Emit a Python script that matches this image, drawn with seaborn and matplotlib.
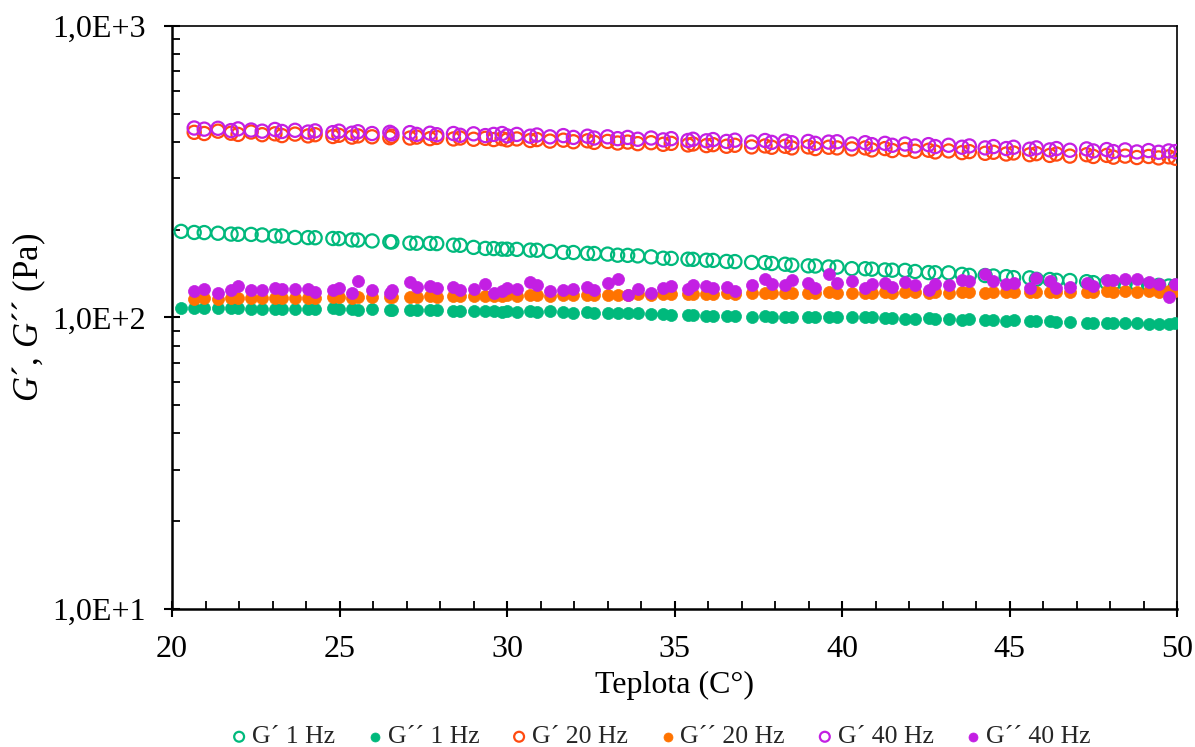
import numpy as np
import pandas as pd
import matplotlib
matplotlib.use("Agg")
import matplotlib.pyplot as plt
import matplotlib.ticker as mticker
import seaborn as sns

nan = np.nan

temperature = [
    20.27, 20.66, 20.96, 21.37, 21.76, 21.97, 22.36, 22.69, 23.07, 23.28,
    23.67, 24.06, 24.27, 24.80, 24.98, 25.37, 25.55, 25.97, 26.50, 26.56,
    27.10, 27.30, 27.70, 27.90, 28.40, 28.60, 29.00, 29.35, 29.60, 29.85,
    30.00, 30.29, 30.69, 30.89, 31.28, 31.68, 31.98, 32.40, 32.60, 33.00,
    33.30, 33.60, 33.90, 34.30, 34.66, 34.90, 35.40, 35.55, 35.95, 36.15,
    36.55, 36.80, 37.30, 37.70, 37.90, 38.30, 38.50, 38.99, 39.20, 39.60,
    39.85,
    40.29, 40.69, 40.89, 41.28, 41.50, 41.88, 42.18, 42.58, 42.78, 43.18,
    43.58, 43.80, 44.27, 44.52, 44.90, 45.12, 45.60, 45.80, 46.20, 46.40,
    46.80, 47.30, 47.50, 47.90, 48.10, 48.45, 48.80, 49.15, 49.45, 49.75,
    49.95,
]

g1_storage = [
    197.5, 195.8, 195.6, 194.6, 193.3, 193.0, 192.8, 192.0, 190.6, 190.4,
    188.2, 188.0, 187.8, 186.7, 186.5, 184.6, 184.4, 183.1, 181.8, 181.6,
    180.0, 179.8, 179.6, 179.3, 177.1, 176.9, 174.0, 172.6, 172.4, 171.6,
    171.5, 171.3, 170.3, 170.1, 168.6, 167.3, 167.1, 166.0, 165.8, 165.0,
    163.6, 163.4, 162.7, 161.5, 159.7, 159.5, 158.5, 158.3, 157.2, 157.0,
    155.7, 155.5, 154.5, 154.3, 153.2, 152.3, 151.2, 150.4, 150.2, 149.1,
    148.9,
    147.1, 147.0, 146.5, 145.6, 145.3, 145.1, 143.8, 142.6, 142.4, 142.3,
    140.6, 139.5, 139.3, 138.8, 138.1, 137.0, 136.8, 135.2, 135.0, 134.1,
    133.9, 132.7, 131.7, 131.5, 131.0, 130.7, 130.0, 129.3, 128.9, 128.2,
    128.0,
]

g1_loss = [
    108.0, 108.0, 107.9, 108.1, 107.8, 107.9, 107.2, 107.3, 107.1, 107.2,
    107.0, 107.1, 106.9, 107.6, 106.8, 106.6, 106.5, 106.6, 106.4, 106.5,
    105.9, 105.8, 105.9, 105.7, 105.2, 105.3, 105.1, 105.2, 105.0, 104.6,
    105.1, 104.5, 105.0, 104.4, 104.9, 104.1, 104.0, 104.1, 103.9, 104.0,
    103.3, 103.2, 103.3, 103.1, 102.6, 101.7, 101.8, 101.6, 101.0, 101.1,
    100.9, 101.0, 100.7, 100.8, 100.5, 100.6, 100.3, 100.4, 100.2, 100.5,
    100.6,
    100.2, 100.5, 100.4, 99.8, 99.7, 99.1, 99.0, 99.2, 99.1, 99.0,
    98.4, 98.5, 98.3, 97.7, 97.6, 97.8, 97.1, 97.2, 97.0, 96.4,
    96.3, 95.9, 96.0, 95.4, 95.5, 95.9, 95.4, 95.1, 94.6, 95.1,
    95.9,
]

g20_storage = [
    nan, 432, 428, 436, 429, 425, 433, 424, 427, 421,
    426, 420, 424, 418, 422, 416, 420, 417, 414, 419,
    413, 416, 411, 415, 410, 413, 409, 412, 408, 411,
    407, 410, 405, 408, 403, 406, 401, 404, 399, 402,
    397, 400, 395, 398, 393, 396, 391, 394, 389, 392,
    387, 390, 385, 388, 384, 387, 382, 385, 380, 384,
    382,
    379, 382, 376, 380, 374, 377, 372, 375, 370, 373,
    368, 371, 366, 369, 364, 367, 362, 365, 360, 364,
    358, 362, 357, 360, 355, 358, 354, 357, 353, 356,
    352,
]

g20_loss = [
    nan, 115.8, 116.3, 115.6, 116.4, 116.3, 116.9, 116.2, 116.8, 116.9,
    117.0, 117.0, 116.8, 117.3, 117.2, 117.1, 118.0, 117.4, 117.6, 117.5,
    117.9, 117.7, 118.3, 118.0, 118.4, 118.1, 118.5, 118.7, 118.6, 118.9,
    119.0, 118.8, 119.2, 119.0, 118.6, 119.4, 119.3, 119.1, 119.6, 119.4,
    119.8, 119.7, 120.1, 119.6, 120.3, 120.2, 120.5, 120.3, 120.6, 120.7,
    120.9, 120.8, 121.0, 121.3, 121.1, 121.5, 121.3, 121.6, 121.4, 121.9,
    121.7,
    121.5, 121.8, 121.6, 122.0, 121.7, 121.9, 122.1, 121.8, 122.2, 121.2,
    122.3, 122.0, 121.6, 122.4, 122.2, 121.9, 122.4, 122.1, 122.3, 122.6,
    122.5, 122.4, 122.6, 122.8, 122.5, 122.9, 122.7, 123.0, 122.4, 122.8,
    123.4,
]

g40_storage = [
    nan, 447, 443, 446, 438, 444, 440, 436, 442, 435,
    439, 433, 437, 431, 436, 429, 434, 428, 432, 427,
    431, 425, 429, 424, 428, 422, 427, 421, 425, 428,
    420, 425, 419, 423, 417, 421, 415, 419, 413, 417,
    411, 415, 409, 413, 407, 411, 405, 409, 404, 408,
    402, 406, 400, 405, 399, 403, 398, 402, 396, 400,
    401,
    394, 398, 392, 396, 390, 394, 388, 392, 386, 390,
    384, 388, 382, 386, 380, 384, 378, 382, 376, 380,
    375, 379, 373, 377, 371, 376, 370, 374, 369, 373,
    371,
]

g40_loss = [
    nan, 123.2, 124.9, 121.0, 123.9, 128.2, 124.2, 124.2, 126.6, 125.6,
    125.6, 125.6, 122.3, 123.9, 126.6, 121.0, 133.1, 124.2, 121.8, 123.9,
    132.8, 127.2, 128.2, 125.9, 127.6, 124.2, 125.6, 130.7, 121.8, 123.2,
    125.9, 124.9, 132.4, 129.6, 123.2, 124.2, 125.6, 127.2, 123.9, 131.7,
    135.9, 119.7, 125.6, 121.0, 125.9, 128.2, 125.6, 129.3, 128.2, 126.6,
    127.2, 123.2, 128.9, 135.9, 130.7, 128.9, 134.4, 131.0, 125.9, 140.7,
    131.0,
    133.4, 126.6, 130.7, 131.7, 127.6, 132.4, 129.3, 123.9, 130.7, 128.9,
    134.1, 133.4, 140.7, 133.4, 130.0, 131.7, 126.6, 137.0, 133.4, 126.6,
    127.2, 131.7, 128.2, 134.4, 134.4, 135.9, 135.9, 132.4, 130.7, 117.5,
    130.0,
]

series_labels = ["G´ 1 Hz", "G´´ 1 Hz", "G´ 20 Hz", "G´´ 20 Hz", "G´ 40 Hz", "G´´ 40 Hz"]
series_values = [g1_storage, g1_loss, g20_storage, g20_loss, g40_storage, g40_loss]
series_colors = ["#00B97C", "#00B97C", "#FF4A10", "#FF7300", "#C31FE3", "#C31FE3"]
series_open = [True, False, True, False, True, False]

x_ticks = [20, 25, 30, 35, 40, 45, 50]
y_ticks = [10, 100, 1000]
y_tick_labels = ["1,0E+1", "1,0E+2", "1,0E+3"]

sns.set_theme(style="white")
plt.rcParams["font.family"] = ["Liberation Serif", "DejaVu Serif"]
plt.rcParams["mathtext.fontset"] = "custom"
plt.rcParams["mathtext.rm"] = "Liberation Serif"
plt.rcParams["mathtext.it"] = "Liberation Serif:italic"

fig = plt.figure(figsize=(11.95, 7.47), dpi=100)
ax = fig.add_axes([0.144, 0.185, 0.841, 0.780])

for lab, vals, col, is_open in zip(series_labels, series_values, series_colors, series_open):
    df = pd.DataFrame({"T": temperature, "G": vals}).dropna()
    if is_open:
        sns.scatterplot(data=df, x="T", y="G", ax=ax, marker="o", s=90,
                        facecolors="none", edgecolor=col, linewidth=1.6,
                        label=lab, zorder=3, clip_on=True)
    else:
        sns.scatterplot(data=df, x="T", y="G", ax=ax, marker="o", s=75,
                        color=col, edgecolor=col, linewidth=0.5,
                        label=lab, zorder=3, clip_on=True)

ax.set_yscale("log")
ax.set_xlim(20, 50)
ax.set_ylim(10, 1000)
ax.set_xticks(x_ticks)
ax.set_xticklabels([str(t) for t in x_ticks])
ax.xaxis.set_minor_locator(mticker.MultipleLocator(1))
ax.set_yticks(y_ticks)
ax.set_yticklabels(y_tick_labels)
ax.yaxis.set_minor_locator(mticker.LogLocator(base=10, subs=np.arange(2, 10)))
ax.yaxis.set_minor_formatter(mticker.NullFormatter())

ax.tick_params(axis="both", which="major", direction="inout", length=12,
               width=1.5, labelsize=23, colors="black", pad=13)
ax.tick_params(axis="both", which="minor", direction="in", length=6,
               width=1.3, colors="black")
ax.tick_params(axis="x", which="both", bottom=True, top=False)
ax.tick_params(axis="y", which="both", left=True, right=False)

for side in ["left", "bottom"]:
    ax.spines[side].set_linewidth(1.8)
    ax.spines[side].set_color("black")
for side in ["top", "right"]:
    ax.spines[side].set_linewidth(1.2)
    ax.spines[side].set_color("black")
    ax.spines[side].set_visible(True)

ax.set_xlabel("Teplota (C°)", fontsize=23, color="black", labelpad=5)
ax.set_ylabel(r"$G$´, $G$´´ (Pa)", fontsize=25, color="black", labelpad=3)
ax.grid(False)

leg = ax.legend(loc="center", bbox_to_anchor=(0.484, -0.220), ncol=6,
                frameon=False, fontsize=18.5, markerscale=0.75, handlelength=1.0,
                handletextpad=0.0, columnspacing=1.05, borderaxespad=0)

fig.savefig("out.png", dpi=100)
